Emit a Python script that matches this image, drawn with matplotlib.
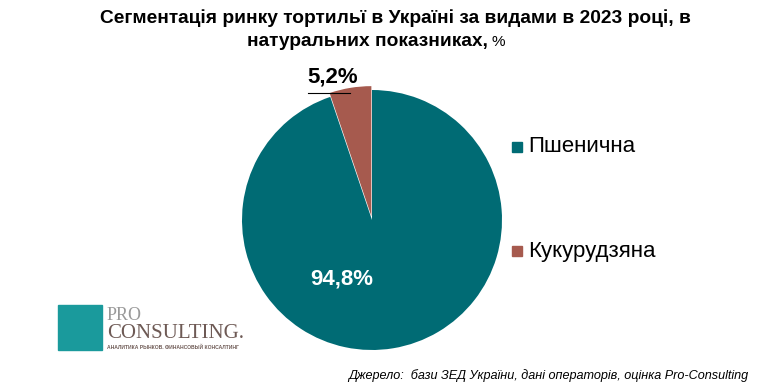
import matplotlib.pyplot as plt
from matplotlib.patches import Rectangle

plt.rcParams['font.family'] = ['Liberation Sans', 'DejaVu Sans']

labels = ['Пшенична', 'Кукурудзяна']
values = [94.8, 5.2]
pct_labels = ['94,8%', '5,2%']
colors = ['#006b74', '#a65a4e']

fig = plt.figure(figsize=(7.62, 3.91), dpi=100)
ax = fig.add_axes([242 / 762, 1 - 350 / 391, 260 / 762, 260 / 391])

wedges, _ = ax.pie(values, colors=colors, startangle=90, counterclock=False,
                   explode=[0, 0.03], wedgeprops=dict(linewidth=0), frame=False)
ax.set_xlim(-1, 1)
ax.set_ylim(-1, 1)
ax.set_aspect('equal')
ax.axis('off')

# data labels
fig.text(342 / 762, 1 - 279 / 391, pct_labels[0], color='white', fontsize=16,
         fontweight='bold', ha='center', va='center')
fig.text(333 / 762, 1 - 77 / 391, pct_labels[1], color='black', fontsize=16,
         fontweight='bold', ha='center', va='center')
fig.add_artist(plt.Line2D([308 / 762, 350 / 762], [1 - 93 / 391, 1 - 93 / 391],
                          color='black', lw=0.8))

# legend
for i, lab in enumerate(labels):
    y = [147, 251][i]
    fig.add_artist(Rectangle((512 / 762, 1 - (y + 5) / 391), 10 / 762, 10 / 391,
                             color=colors[i], transform=fig.transFigure))
    fig.text(528 / 762, 1 - y / 391, lab, fontsize=16, ha='left', va='center')

# title (the "%" is not bold in the original)
fig.text(395 / 762, 1 - 18 / 391, 'Сегментація ринку тортильї в Україні за видами в 2023 році, в',
         fontsize=13.8, fontweight='bold', ha='center', va='center')
fig.text(488 / 762, 1 - 42 / 391, 'натуральних показниках,',
         fontsize=13.8, fontweight='bold', ha='right', va='center')
fig.text(491 / 762, 1 - 42 / 391, '%',
         fontsize=11, ha='left', va='center')

# source
fig.text(748 / 762, 1 - 376 / 391,
         'Джерело:  бази ЗЕД України, дані операторів, оцінка Pro-Consulting',
         fontsize=9.1, style='italic', ha='right', va='center')

# logo
fig.add_artist(Rectangle((58 / 762, 1 - 350 / 391), 44 / 762, 45 / 391,
                         color='#1a9a9c', transform=fig.transFigure))
fig.text(107 / 762, 1 - 316 / 391, 'PRO', fontsize=13, family='Liberation Serif',
         color='#999999', ha='left', va='center')
fig.text(107 / 762, 1 - 333 / 391, 'CONSULTING.', fontsize=15, family='Liberation Serif',
         color='#6e5a55', ha='left', va='center')
fig.text(107 / 762, 1 - 347 / 391, 'АНАЛИТИКА РЫНКОВ. ФИНАНСОВЫЙ КОНСАЛТИНГ',
         fontsize=3.6, fontweight='bold', color='#6e5a55', ha='left', va='center')

fig.savefig('out.png', dpi=100)
